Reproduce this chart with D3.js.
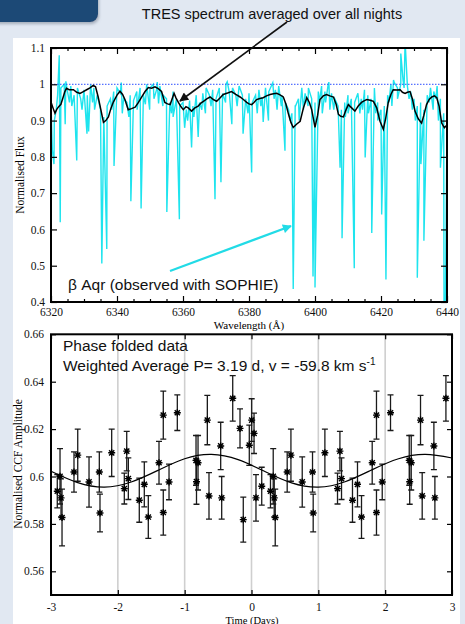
<!DOCTYPE html>
<html>
<head>
<meta charset="utf-8">
<script src="https://cdn.jsdelivr.net/npm/d3@7"></script>
<style>
body { margin: 0; background: #e1e8f2; }
svg { display: block; }
</style>
</head>
<body>
<svg id="fig" width="465" height="624"></svg>
<script>
// ---- top panel data: wavelength (A) / normalised flux ----
const waveMajor = [6320, 6340, 6360, 6380, 6400, 6420, 6440]
const fluxTicks = [0.4, 0.5, 0.6, 0.7, 0.8, 0.9, 1.0, 1.1]

// TRES spectrum averaged over all nights (black)
const tresSpec = [
  [6320.0,0.951],[6320.6,0.935],[6321.2,0.920],[6321.7,0.930],[6322.2,0.937],[6323.0,0.945],[6323.7,0.965],
  [6324.2,0.980],[6324.7,0.989],[6325.5,0.985],[6326.8,0.985],[6327.8,0.978],[6328.8,0.975],[6329.8,0.980],
  [6330.8,0.985],[6331.8,0.990],[6332.8,0.997],[6333.5,0.993],[6334.3,0.965],[6335.1,0.930],[6335.9,0.895],
  [6336.6,0.900],[6337.4,0.910],[6338.2,0.935],[6338.9,0.951],[6340.0,0.970],[6340.9,0.981],[6341.7,0.972],
  [6342.4,0.958],[6343.4,0.930],[6344.4,0.933],[6345.5,0.937],[6346.5,0.950],[6347.5,0.965],[6348.5,0.980],
  [6349.5,0.991],[6350.5,0.989],[6351.5,0.993],[6352.5,0.988],[6353.5,0.980],[6354.5,0.950],[6355.3,0.946],
  [6356.1,0.944],[6356.8,0.962],[6357.3,0.975],[6357.9,0.962],[6358.6,0.950],[6359.4,0.938],[6360.1,0.930],
  [6360.9,0.938],[6361.6,0.935],[6362.6,0.926],[6363.6,0.935],[6364.6,0.940],[6365.4,0.948],[6366.2,0.953],
  [6367.2,0.960],[6368.2,0.965],[6369.2,0.958],[6370.2,0.953],[6371.2,0.962],[6372.2,0.972],[6373.5,0.976],
  [6374.7,0.980],[6376.0,0.972],[6377.3,0.965],[6378.3,0.958],[6379.3,0.950],[6380.0,0.946],[6380.8,0.944],
  [6381.5,0.950],[6382.3,0.958],[6383.3,0.961],[6384.3,0.963],[6385.3,0.968],[6386.4,0.972],[6387.4,0.974],
  [6388.4,0.975],[6389.4,0.971],[6390.4,0.965],[6391.2,0.945],[6391.9,0.920],[6392.7,0.895],[6393.4,0.881],
  [6394.4,0.890],[6395.5,0.898],[6396.5,0.935],[6397.5,0.963],[6398.3,0.950],[6399.0,0.930],[6400.0,0.881],
  [6400.8,0.915],[6401.5,0.958],[6402.5,0.968],[6403.5,0.972],[6404.5,0.968],[6405.6,0.965],[6406.4,0.945],
  [6407.1,0.917],[6407.8,0.912],[6408.6,0.910],[6409.4,0.930],[6410.1,0.944],[6411.1,0.935],[6412.1,0.926],
  [6413.1,0.940],[6414.1,0.950],[6415.0,0.955],[6415.7,0.958],[6416.7,0.956],[6417.7,0.953],[6418.7,0.935],
  [6419.7,0.898],[6420.7,0.876],[6421.4,0.905],[6422.2,0.950],[6423.0,0.972],[6423.7,0.985],[6424.8,0.984],
  [6425.8,0.985],[6426.5,0.978],[6427.3,0.975],[6428.0,0.978],[6428.8,0.980],[6429.5,0.960],[6430.3,0.926],
  [6431.3,0.905],[6432.3,0.893],[6433.0,0.915],[6433.8,0.944],[6434.6,0.958],[6435.4,0.965],[6436.2,0.968],
  [6436.9,0.963],[6437.6,0.940],[6438.4,0.893],[6439.2,0.880],[6440.0,0.888]
]

// SOPHIE spectrum of beta Aqr (cyan): continuum samples + line cores
const sophieCont = [
  [6320,0.95],[6321,0.90],[6322,0.97],[6323,0.99],[6324,1.00],[6325,0.98],[6326,0.995],[6327,0.97],[6328,0.99],
  [6329,0.96],[6330,0.985],[6331,0.97],[6332,1.00],[6333,0.99],[6334,0.97],[6335,0.93],[6336,0.91],[6337,0.94],
  [6338,0.96],[6339,0.98],[6340,0.99],[6341,0.975],[6342,0.96],[6343,0.95],[6344,0.97],[6345,0.955],[6346,0.98],
  [6347,0.99],[6348,0.97],[6349,1.00],[6350,0.99],[6351,1.00],[6352,0.985],[6353,0.995],[6354,0.97],[6355,0.96],
  [6356,0.95],[6357,0.98],[6358,0.96],[6359,0.94],[6360,0.95],[6361,0.93],[6362,0.955],[6363,0.94],[6364,0.97],
  [6365,0.95],[6366,0.975],[6367,0.99],[6368,0.97],[6369,0.985],[6370,0.96],[6371,0.99],[6372,0.975],[6373,1.00],
  [6374,0.98],[6375,0.99],[6376,0.97],[6377,0.995],[6378,0.97],[6379,0.96],[6380,0.975],[6381,0.95],[6382,0.97],
  [6383,0.985],[6384,0.965],[6385,0.99],[6386,0.98],[6387,1.00],[6388,0.985],[6389,0.995],[6390,0.97],[6391,0.95],
  [6392,0.93],[6393,0.92],[6394,0.94],[6395,0.96],[6396,0.99],[6397,0.975],[6398,0.99],[6399,0.96],[6400,0.95],
  [6401,0.98],[6402,0.995],[6403,0.98],[6404,1.00],[6405,0.975],[6406,0.96],[6407,0.94],[6408,0.93],[6409,0.95],
  [6410,0.97],[6411,0.96],[6412,0.95],[6413,0.975],[6414,0.96],[6415,0.985],[6416,0.97],[6417,0.96],[6418,0.99],
  [6419,0.95],[6420,0.93],[6421,0.94],[6422,0.97],[6423,1.00],[6424,1.005],[6425,0.99],[6426,1.00],[6427,0.99],
  [6428,0.995],[6429,0.98],[6430,0.96],[6431,0.94],[6432,0.95],[6433,0.93],[6434,0.97],[6435,0.99],[6436,0.98],
  [6437,0.995],[6438,0.96],[6439,0.92],[6440,0.90]
]
const sophieLines = [
  [6320.4,0.82],[6320.9,0.78],[6321.6,0.93],[6322.5,1.08],[6322.8,0.62],[6324.3,0.89],[6324.5,1.008],[6325.6,0.95],
  [6326.3,0.94],[6327.8,0.79],[6329.4,0.93],[6330.9,0.864],[6331.4,0.87],[6332.6,0.95],[6333.2,0.93],[6335.4,0.506],
  [6336.9,0.546],[6338.4,0.93],[6339.1,0.775],[6341.3,1.005],[6341.6,0.92],[6343.6,0.91],[6344.2,0.678],[6346.1,0.93],
  [6347.3,0.658],[6348.6,0.945],[6349.9,0.93],[6351.2,0.96],[6352.2,1.006],[6352.6,0.947],[6353.9,0.94],[6355.1,0.648],
  [6356.5,0.92],[6357.0,0.91],[6358.9,0.628],[6360.5,0.88],[6361.4,0.90],[6362.6,0.826],[6363.3,0.91],[6364.6,0.855],
  [6365.7,0.93],[6366.8,0.92],[6368.5,0.94],[6369.7,0.683],[6371.5,0.73],[6372.9,0.95],[6373.4,1.007],[6374.8,0.89],
  [6376.4,0.94],[6378.2,0.864],[6379.7,0.92],[6380.8,0.757],[6382.5,0.92],[6383.6,0.94],[6384.3,0.896],[6385.9,0.90],
  [6387.2,1.004],[6387.6,0.96],[6388.5,0.93],[6389.8,0.94],[6390.9,0.817],[6392.4,0.90],[6393.4,0.436],[6394.1,0.94],
  [6395.2,0.90],[6396.5,0.93],[6397.9,0.94],[6399.4,0.47],[6400.0,0.44],[6401.3,0.95],[6402.2,0.92],[6403.2,0.95],
  [6404.2,1.006],[6404.5,0.93],[6405.7,0.93],[6407.6,0.77],[6408.2,0.576],[6409.2,0.91],[6410.0,0.92],[6411.9,0.493],
  [6413.6,0.92],[6414.4,0.93],[6415.2,0.798],[6416.2,0.92],[6417.2,0.59],[6418.4,0.92],[6419.0,0.90],[6420.2,0.641],
  [6421.5,0.462],[6422.4,0.95],[6423.3,0.94],[6423.8,1.012],[6425.0,0.96],[6426.0,1.085],[6426.7,1.01],[6427.3,1.12],
  [6428.5,0.96],[6429.5,0.93],[6430.4,0.90],[6431.0,0.467],[6432.1,0.78],[6433.0,0.569],[6434.6,0.95],[6435.8,0.93],
  [6436.6,0.96],[6437.4,0.90],[6438.0,0.77],[6439.1,0.38],[6439.5,0.38]
]

// ---- bottom panel data: phase folded CCF amplitude ----
const period = 3.19
const dayTicks = [-3, -2, -1, 0, 1, 2, 3]
const ampTicks = [0.56, 0.58, 0.60, 0.62, 0.64, 0.66]
const ccfTime = [-2.906, -2.865, -2.850, -2.835, -2.656, -2.600, -2.431, -2.277, -2.267, -2.092, -1.903, -1.867,
  -1.843, -1.679, -1.604, -1.544, -1.384, -1.320, -1.320, -1.234, -1.110, -0.830, -0.823, -0.800, -0.661, -0.636,
  -0.461, -0.446, -0.281, -0.172, -0.123, -0.033, 0.003, 0.038, 0.067, 0.153]
const ccfAmp = [0.5938, 0.6001, 0.5910, 0.5827, 0.6019, 0.6090, 0.5977, 0.6019, 0.5846, 0.6100, 0.5949, 0.6107,
  0.5991, 0.5900, 0.5967, 0.5829, 0.6058, 0.6259, 0.5848, 0.5977, 0.6269, 0.6068, 0.5978, 0.6058, 0.6238, 0.5918,
  0.6129, 0.5910, 0.6330, 0.6203, 0.5818, 0.6132, 0.6238, 0.6182, 0.5910, 0.5959]
const ccfErr = [0.0070, 0.0117, 0.0080, 0.0120, 0.0085, 0.0110, 0.0106, 0.0085, 0.0080, 0.0100, 0.0065, 0.0083,
  0.0088, 0.0093, 0.0095, 0.0090, 0.0090, 0.0101, 0.0095, 0.0075, 0.0075, 0.0105, 0.0095, 0.0115, 0.0104, 0.0098,
  0.0100, 0.0090, 0.0096, 0.0082, 0.0095, 0.0085, 0.0090, 0.0085, 0.0098, 0.0080]
// fitted curve
const fitTime = [-3.0, -2.6, -2.2, -1.8, -1.4, -1.0, -0.6, -0.2, 0.2, 0.6, 1.0, 1.4, 1.8, 2.2, 2.6, 3.0]
const fitAmp = [0.6022, 0.5974, 0.5955, 0.5977, 0.6026, 0.6075, 0.6093, 0.6071, 0.6021, 0.5973, 0.5955, 0.5978,
  0.6028, 0.6075, 0.6093, 0.6078]

const serif = '"Liberation Serif", "DejaVu Serif", serif'
const sans = '"Liberation Sans", Arial, sans-serif'

const svg = d3.select('#fig')

// background pieces
const defs = svg.append('defs')
defs.append('filter').attr('id', 'shadow').attr('x', -0.2).attr('y', -0.2).attr('width', 1.5).attr('height', 1.8)
  .append('feDropShadow').attr('dx', 1).attr('dy', 2).attr('stdDeviation', 1.5).attr('flood-color', '#7a8594').attr('flood-opacity', 0.6)
svg.append('rect').attr('x', -12).attr('y', -12).attr('width', 110).attr('height', 34).attr('rx', 8)
  .attr('fill', '#1f4a76').attr('filter', 'url(#shadow)')
svg.append('rect').attr('x', 13).attr('y', 38).attr('width', 447).attr('height', 600).attr('fill', '#ffffff')

// arrow heads
function arrowMarker(id, colour) {
  defs.append('marker').attr('id', id).attr('viewBox', '0 0 10 10').attr('refX', 9).attr('refY', 5)
    .attr('markerUnits', 'userSpaceOnUse').attr('markerWidth', 11).attr('markerHeight', 9).attr('orient', 'auto')
    .append('path').attr('d', 'M0,0L10,5L0,10z').attr('fill', colour)
}
arrowMarker('headBlack', '#111')
arrowMarker('headCyan', '#22dbe6')

// ================= top panel =================
const x1 = d3.scaleLinear().domain([6320, 6440]).range([51, 447])
const y1 = d3.scaleLinear().domain([0.4, 1.1]).range([302, 48])

defs.append('clipPath').attr('id', 'clipTop').append('rect')
  .attr('x', 51).attr('y', 48).attr('width', 396).attr('height', 254)

const specPanel = svg.append('g')

const sophie = sophieCont.concat(sophieLines).sort((a, b) => a[0] - b[0])
const specLine = d3.line().x(d => x1(d[0])).y(d => y1(d[1]))

specPanel.append('path').datum(sophie).attr('clip-path', 'url(#clipTop)')
  .attr('d', specLine).attr('fill', 'none').attr('stroke', '#1ee4ee').attr('stroke-width', 1.4)
specPanel.append('line').attr('x1', x1(6320)).attr('x2', x1(6440)).attr('y1', y1(1)).attr('y2', y1(1))
  .attr('stroke', '#2b4dff').attr('stroke-width', 1).attr('stroke-dasharray', '1.5,1.5')
specPanel.append('path').datum(tresSpec).attr('clip-path', 'url(#clipTop)')
  .attr('d', specLine).attr('fill', 'none').attr('stroke', '#000').attr('stroke-width', 1.5)

// axes, ticks pointing inwards
const waveMinor = d3.range(6325, 6440, 5).filter(w => waveMajor.indexOf(w) < 0)
specPanel.append('g').attr('transform', 'translate(0,302)')
  .call(d3.axisBottom(x1).tickValues(waveMajor).tickSizeInner(-6).tickSizeOuter(0).tickPadding(6).tickFormat(d => String(d)))
specPanel.append('g').attr('transform', 'translate(0,302)')
  .call(d3.axisBottom(x1).tickValues(waveMinor).tickSizeInner(-3).tickSizeOuter(0).tickFormat(''))
specPanel.append('g').attr('transform', 'translate(0,48)')
  .call(d3.axisTop(x1).tickValues(waveMajor).tickSizeInner(-6).tickSizeOuter(0).tickFormat(''))
specPanel.append('g').attr('transform', 'translate(0,48)')
  .call(d3.axisTop(x1).tickValues(waveMinor).tickSizeInner(-3).tickSizeOuter(0).tickFormat(''))
specPanel.append('g').attr('transform', 'translate(51,0)')
  .call(d3.axisLeft(y1).tickValues(fluxTicks).tickSizeInner(-6).tickSizeOuter(0).tickPadding(6)
    .tickFormat(d => String(Math.round(d * 10) / 10)))
specPanel.append('g').attr('transform', 'translate(447,0)')
  .call(d3.axisRight(y1).tickValues(fluxTicks).tickSizeInner(-6).tickSizeOuter(0).tickFormat(''))
specPanel.append('rect').attr('x', 51).attr('y', 48).attr('width', 396).attr('height', 254)
  .attr('fill', 'none').attr('stroke', '#000').attr('stroke-width', 2)

specPanel.append('text').attr('x', 249).attr('y', 329).attr('text-anchor', 'middle')
  .attr('font-family', serif).attr('font-size', 11).text('Wavelength (Å)')
specPanel.append('text').attr('transform', 'translate(24,175) rotate(-90)').attr('text-anchor', 'middle')
  .attr('font-family', serif).attr('font-size', 11.5).text('Normalised Flux')

// annotations
svg.append('text').attr('x', 272).attr('y', 19).attr('text-anchor', 'middle')
  .attr('font-family', sans).attr('font-size', 14.5).attr('fill', '#111').text('TRES spectrum averaged over all nights')
svg.append('line').attr('x1', 287).attr('y1', 22).attr('x2', 180).attr('y2', 101)
  .attr('stroke', '#111').attr('stroke-width', 1.6).attr('marker-end', 'url(#headBlack)')
svg.append('line').attr('x1', 170).attr('y1', 271).attr('x2', 291).attr('y2', 226)
  .attr('stroke', '#22dbe6').attr('stroke-width', 2.2).attr('marker-end', 'url(#headCyan)')
svg.append('text').attr('x', 68).attr('y', 290)
  .attr('font-family', sans).attr('font-size', 15.5).attr('fill', '#111').text('β Aqr (observed with SOPHIE)')

// ================= bottom panel =================
const x2 = d3.scaleLinear().domain([-3, 3]).range([51, 452])
const y2 = d3.scaleLinear().domain([0.55, 0.66]).range([595, 334.3])
const ccfPanel = svg.append('g')

defs.append('clipPath').attr('id', 'clipBot').append('rect')
  .attr('x', 51).attr('y', 334.3).attr('width', 401).attr('height', 260.7)

// grey day lines
ccfPanel.append('g').selectAll('line').data(dayTicks.slice(1, -1)).join('line')
  .attr('x1', d => x2(d)).attr('x2', d => x2(d)).attr('y1', y2(0.66)).attr('y2', y2(0.55))
  .attr('stroke', '#cfcfcf').attr('stroke-width', 1.6)

// phase folded points, shown again one period later
const ccfPoints = []
ccfTime.forEach((t, i) => {
  [t, t + period].forEach(tt => {
    if (tt <= 3) ccfPoints.push({ t: tt, a: ccfAmp[i], e: ccfErr[i] })
  })
})

const bars = ccfPanel.append('g').attr('clip-path', 'url(#clipBot)').attr('stroke', '#1a1a1a').attr('stroke-width', 1.3)
bars.selectAll('path').data(ccfPoints).join('path')
  .attr('fill', 'none')
  .attr('d', d => {
    const x = x2(d.t), yt = y2(d.a + d.e), yb = y2(d.a - d.e)
    return `M${x},${yt}V${yb}M${x - 3},${yt}H${x + 3}M${x - 3},${yb}H${x + 3}`
  })

const star = 'M-3.5,0H3.5M0,-3.5V3.5M-2.6,-2.6L2.6,2.6M-2.6,2.6L2.6,-2.6'
ccfPanel.append('g').attr('clip-path', 'url(#clipBot)').selectAll('path').data(ccfPoints).join('path')
  .attr('transform', d => `translate(${x2(d.t)},${y2(d.a)})`)
  .attr('d', star).attr('fill', 'none').attr('stroke', '#000').attr('stroke-width', 1.4)

// fitted curve
ccfPanel.append('path').datum(fitTime.map((t, i) => [t, fitAmp[i]]))
  .attr('d', d3.line().x(d => x2(d[0])).y(d => y2(d[1])).curve(d3.curveNatural))
  .attr('fill', 'none').attr('stroke', '#000').attr('stroke-width', 1.2)

ccfPanel.append('g').attr('transform', 'translate(0,595)')
  .call(d3.axisBottom(x2).tickValues(dayTicks).tickSizeInner(-5).tickSizeOuter(0).tickPadding(8).tickFormat(d => String(d)))
ccfPanel.append('g').attr('transform', 'translate(0,334.3)')
  .call(d3.axisTop(x2).tickValues(dayTicks).tickSizeInner(-5).tickSizeOuter(0).tickFormat(''))
ccfPanel.append('g').attr('transform', 'translate(51,0)')
  .call(d3.axisLeft(y2).tickValues(ampTicks).tickSizeInner(-5).tickSizeOuter(0).tickPadding(7)
    .tickFormat(d => String(Math.round(d * 100) / 100)))
ccfPanel.append('g').attr('transform', 'translate(452,0)')
  .call(d3.axisRight(y2).tickValues(ampTicks).tickSizeInner(-5).tickSizeOuter(0).tickFormat(''))
ccfPanel.append('rect').attr('x', 51).attr('y', 334.3).attr('width', 401).attr('height', 260.7)
  .attr('fill', 'none').attr('stroke', '#000').attr('stroke-width', 2)

ccfPanel.append('text').attr('x', 252).attr('y', 623.5).attr('text-anchor', 'middle')
  .attr('font-family', serif).attr('font-size', 10.5).text('Time (Days)')
ccfPanel.append('text').attr('transform', 'translate(22,464) rotate(-90)').attr('text-anchor', 'middle')
  .attr('font-family', serif).attr('font-size', 11.5).text('Normalised CCF Amplitude')

ccfPanel.append('text').attr('x', 63).attr('y', 351)
  .attr('font-family', sans).attr('font-size', 15.5).attr('fill', '#111').text('Phase folded data')
const wt = ccfPanel.append('text').attr('x', 63).attr('y', 371)
  .attr('font-family', sans).attr('font-size', 15.5).attr('fill', '#111')
wt.append('tspan').text('Weighted Average P= 3.19 d, v = -59.8 km s')
wt.append('tspan').attr('font-size', 10).attr('dy', -6).text('-1')

// serif tick labels, no domain lines (frames drawn above)
svg.selectAll('.domain').remove()
svg.selectAll('.tick text').attr('font-family', serif).attr('font-size', 11.5).attr('fill', '#111')
svg.selectAll('.tick line').attr('stroke', '#000').attr('stroke-width', 1.2)
</script>
</body>
</html>
